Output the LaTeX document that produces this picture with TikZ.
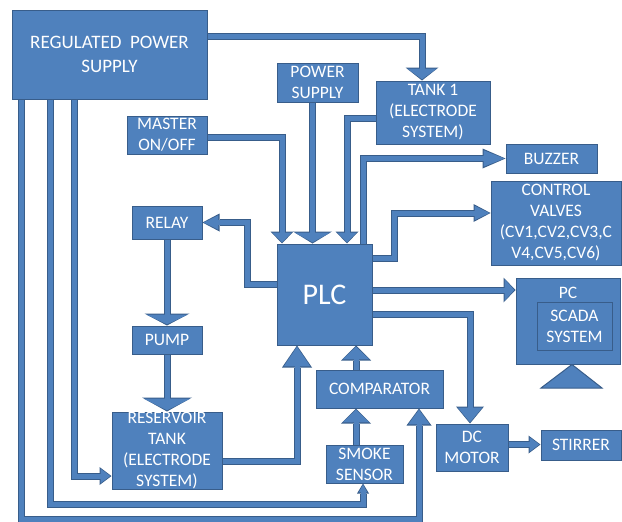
\documentclass[tikz,border=0pt]{standalone}
\usepackage{fontspec}
\setmainfont{Carlito}
\usetikzlibrary{arrows.meta, calc}
\definecolor{boxblue}{RGB}{79,129,189}
\definecolor{edgeblue}{RGB}{56,93,138}
\tikzset{
  blk/.style={rectangle, draw=edgeblue, fill=boxblue, line width=1pt, text=white,
    align=center, inner sep=0pt, font=\fontsize{17.5}{21}\selectfont},
  txt/.style={text=white, align=center, inner sep=0pt, font=\fontsize{17.5}{21}\selectfont},
  pipeedge/.style={draw=edgeblue, line width=7pt},
  pipefill/.style={draw=boxblue, line width=5pt, shorten >=1.2pt},
  stand/.style={draw=edgeblue, fill=boxblue, line width=1pt}
}
% block arrow: head length, head width, path
\newcommand{\flowpipe}[3]{%
  \pgfmathsetmacro{\inlen}{#1-2.4}%
  \pgfmathsetmacro{\inwid}{#2-3.6}%
  \draw[pipeedge, -{Triangle[length=#1pt, width=#2pt, line width=0pt]}] #3;
  \draw[pipefill, -{Triangle[length=\inlen pt, width=\inwid pt, line width=0pt]}] #3;
}

\begin{document}
\begin{tikzpicture}[x=1pt, y=-1pt]
  \useasboundingbox (0,0) rectangle (622,522);

  % blocks
  \node[blk, minimum width=195pt, minimum height=89pt, font=\fontsize{19}{24}\selectfont] (rps) at (109.5,54.5) {REGULATED\ \ POWER\\SUPPLY};
  \node[blk, minimum width=81pt, minimum height=39pt] (psu) at (317.5,82.5) {POWER\\SUPPLY};
  \node[blk, minimum width=114pt, minimum height=63pt] (tank1) at (433,112.5) {TANK 1\\(ELECTRODE\\SYSTEM)};
  \node[blk, minimum width=80pt, minimum height=38pt] (master) at (167,135) {MASTER\\ON/OFF};
  \node[blk, minimum width=91pt, minimum height=29pt] (buzzer) at (551.5,158.5) {BUZZER};
  \node[blk, minimum width=130pt, minimum height=84pt] (cv) at (556,223) {CONTROL\\VALVES\\(CV1,CV2,CV3,C\\V4,CV5,CV6)};
  \node[blk, minimum width=70pt, minimum height=33pt] (relay) at (167,222.5) {RELAY};
  \node[blk, minimum width=95pt, minimum height=101pt, font=\fontsize{30}{36}\selectfont] (plc) at (324.5,294.5) {PLC};
  \node[blk, minimum width=104pt, minimum height=86pt] (pc) at (568,321) {};
  \node[txt] (pclbl) at (568,293) {PC};
  \node[blk, minimum width=75pt, minimum height=48pt] (scada) at (574.5,326) {SCADA\\SYSTEM};
  \draw[stand] ([xshift=4pt]pc.south) -- (541,388) -- (602,388) -- cycle;
  \node[blk, minimum width=70pt, minimum height=28pt] (pump) at (167,340) {PUMP};
  \node[blk, minimum width=127pt, minimum height=38pt] (comp) at (379.5,389) {COMPARATOR};
  \node[blk, minimum width=110pt, minimum height=77pt] (res) at (167,450.5) {RESERVOIR\\TANK\\(ELECTRODE\\SYSTEM)};
  \node[blk, minimum width=72pt, minimum height=47pt] (dcm) at (472,447.5) {DC\\MOTOR};
  \node[blk, minimum width=80pt, minimum height=30pt] (stir) at (581,445) {STIRRER};
  \node[blk, minimum width=77pt, minimum height=38pt] (smoke) at (364.5,464) {SMOKE\\SENSOR};

  % connectors
  \flowpipe{13}{33}{([yshift=18.5pt]rps.east) -| ([xshift=-11pt]tank1.north)}
  \flowpipe{12}{39}{([xshift=-5pt]psu.south) -- ([xshift=-12pt]plc.north)}
  \flowpipe{12}{23}{([yshift=-2pt]master.east) -| ([xshift=-42.5pt]plc.north)}
  \flowpipe{12}{23}{([yshift=-5.5pt]tank1.west) -| ([xshift=22.5pt]plc.north)}
  \flowpipe{23}{20}{([xshift=38.5pt]plc.north) |- (buzzer.west)}
  \flowpipe{17}{18}{([yshift=36.5pt]plc.east) -- ++(22,0) |- ([yshift=10pt]cv.west)}
  \flowpipe{17}{18}{([yshift=10.5pt]plc.west) -- ++(-29,0) |- (relay.east)}
  \flowpipe{12}{25}{([yshift=4.5pt]plc.east) -- ([yshift=4.5pt]plc.east -| pc.west)}
  \flowpipe{17}{28}{([yshift=-19.5pt]plc.east) -| ([xshift=-2pt]dcm.north)}
  \flowpipe{12}{18}{([yshift=3pt]dcm.east) -- ([yshift=3pt]dcm.east -| stir.west)}
  \flowpipe{15}{30}{([xshift=-23.5pt]comp.north) -- ([xshift=-23.5pt]comp.north |- plc.south)}
  \flowpipe{15}{30}{([xshift=-8.5pt]smoke.north) -- ([xshift=-8.5pt]smoke.north |- comp.south)}
  \flowpipe{12}{45}{(relay.south) -- (pump.north)}
  \flowpipe{14}{50}{(pump.south) -- (res.north)}
  \flowpipe{22}{30}{([yshift=-10.5pt]res.east) -| ([xshift=-27.5pt]plc.south)}
  \flowpipe{12}{18}{([xshift=-35.5pt]rps.south) |- ([yshift=-25.5pt]res.west)}
  \flowpipe{10}{12}{([xshift=-59.5pt]rps.south) -- ++(0,405) -| ([xshift=-1.5pt]smoke.south)}
  \flowpipe{17}{25}{([xshift=-88.5pt]rps.south) -- ++(0,420) -| ([xshift=39.5pt]comp.south)}
\end{tikzpicture}
\end{document}
